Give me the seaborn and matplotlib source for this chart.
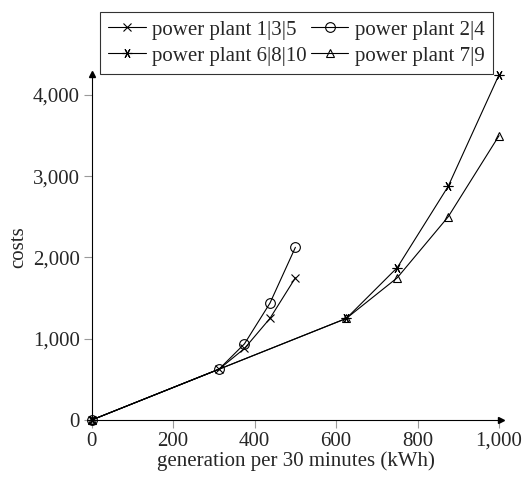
import matplotlib
matplotlib.use("Agg")
import matplotlib.pyplot as plt
import matplotlib.ticker as mticker
import seaborn as sns
import pandas as pd

sns.set_style("ticks")
plt.rcParams['font.family'] = ['Liberation Serif', 'DejaVu Serif']
plt.rcParams['mathtext.fontset'] = 'stix'

labels = ["power plant 1|3|5", "power plant 2|4", "power plant 6|8|10", "power plant 7|9"]
x_135 = [0, 312.5, 375, 437.5, 500]
y_135 = [0, 625, 880, 1250, 1750]
x_24 = [0, 312.5, 375, 437.5, 500]
y_24 = [0, 625, 937.5, 1437.5, 2125]
x_6810 = [0, 625, 750, 875, 1000]
y_6810 = [0, 1250, 1875, 2875, 4250]
x_79 = [0, 625, 750, 875, 1000]
y_79 = [0, 1250, 1750, 2500, 3500]

series = [(x_135, y_135), (x_24, y_24), (x_6810, y_6810), (x_79, y_79)]
markers = ["x", "o", (6, 2, 90), "^"]
msizes = [6, 7, 7, 6]

fs = 15
fig = plt.figure(figsize=(5.31, 4.79), dpi=100)
ax = fig.add_axes([0.1727, 0.1232, 0.771, 0.7226])

for (xs, ys), lab, mk, ms in zip(series, labels, markers, msizes):
    df = pd.DataFrame({"x": xs, "y": ys})
    sns.lineplot(data=df, x="x", y="y", ax=ax, color="black", lw=0.8,
                 marker=mk, markersize=ms, markerfacecolor="none",
                 markeredgecolor="black", markeredgewidth=0.8,
                 label=lab, clip_on=False, errorbar=None)

ax.set_xlim(0, 1005)
ax.set_ylim(0, 4260)
ax.set_xticks([0, 200, 400, 600, 800, 1000])
ax.set_yticks([0, 1000, 2000, 3000, 4000])
fmt = mticker.FuncFormatter(lambda v, p: f"{int(v):,}")
ax.xaxis.set_major_formatter(fmt)
ax.yaxis.set_major_formatter(fmt)
ax.tick_params(axis="both", direction="out", length=5.5, width=0.8,
               color="#9a9a9a", labelsize=fs, pad=3)
for s in ["top", "right"]:
    ax.spines[s].set_visible(False)
for s in ["left", "bottom"]:
    ax.spines[s].set_linewidth(0.8)
    ax.spines[s].set_color("black")
ax.plot(1, 0, ">", color="black", markersize=4, transform=ax.transAxes, clip_on=False)
ax.plot(0, 1, "^", color="black", markersize=4, transform=ax.transAxes, clip_on=False)

ax.set_xlabel("generation per 30 minutes (kWh)", fontsize=fs, labelpad=0)
ax.set_ylabel("costs", fontsize=fs, labelpad=3)

handles, labs = ax.get_legend_handles_labels()
order = [0, 2, 1, 3]
leg = ax.legend([handles[i] for i in order], [labs[i] for i in order],
                loc="lower center", bbox_to_anchor=(0.5, 1.0), ncol=2,
                fontsize=fs, frameon=True, fancybox=False, borderaxespad=0,
                handlelength=1.8, handletextpad=0.3, columnspacing=0.2,
                borderpad=0.4, labelspacing=0.3)
leg.get_frame().set_edgecolor("black")
leg.get_frame().set_linewidth(0.8)

fig.savefig("out.png", dpi=100)
